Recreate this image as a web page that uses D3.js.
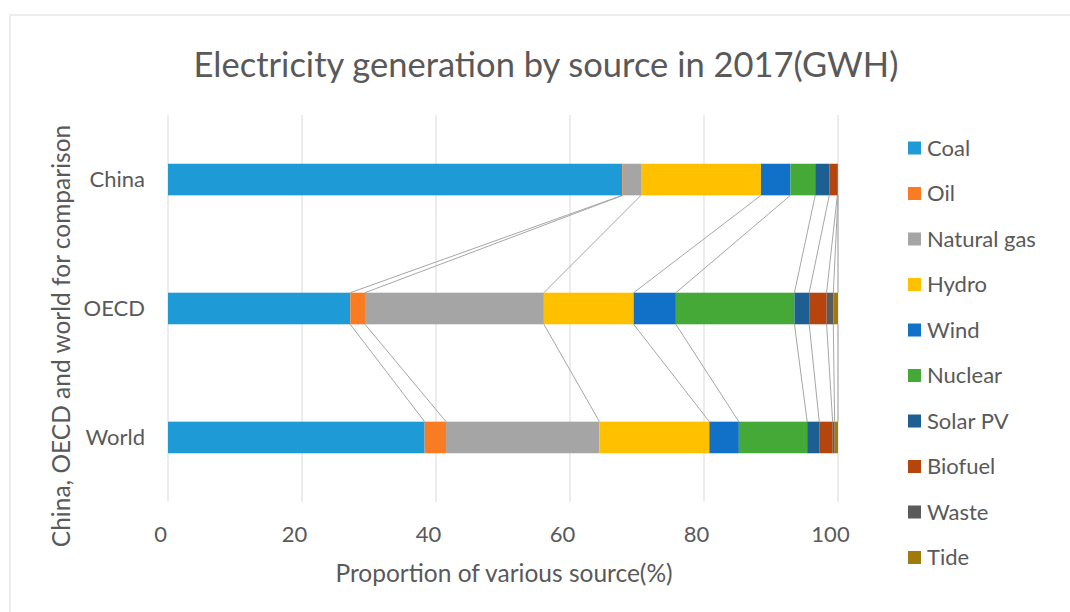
<!DOCTYPE html>
<html>
<head>
<meta charset="utf-8">
<script src="https://cdn.jsdelivr.net/npm/d3@7"></script>
<style>
  body { margin: 0; background: #fff; }
  text { font-family: Lato, "Open Sans", sans-serif; fill: #595959; }
</style>
</head>
<body>
<div id="chart"></div>
<script>
// Dados (% de cada fonte)
const regioes = ["China", "OECD", "World"];
const fontes = ["Coal", "Oil", "Natural gas", "Hydro", "Wind", "Nuclear", "Solar PV", "Biofuel", "Waste", "Tide"];
const china = [67.8, 0.1, 2.7, 17.9, 4.4, 3.7, 2.1, 1.2, 0.1, 0.0];
const oecd  = [27.2, 2.2, 26.7, 13.4, 6.3, 17.7, 2.2, 2.6, 1.0, 0.7];
const world = [38.3, 3.2, 22.9, 16.4, 4.4, 10.2, 1.8, 2.0, 0.3, 0.5];
const ticksX = [0, 20, 40, 60, 80, 100];
const cores = ["#1e9bd7", "#f97b22", "#a5a5a5", "#ffc000", "#1170c8", "#44a936", "#1d5f93", "#b5450c", "#5b5b5b", "#a07a0a"];

const valores = [china, oecd, world];
const tabela = regioes.map((r, i) => {
  const linha = { regiao: r };
  fontes.forEach((f, j) => linha[f] = valores[i][j]);
  return linha;
});

const W = 1070, H = 612;
const plot = { left: 168, right: 838, top: 115, bottom: 502 };

const svg = d3.select("#chart")
    .append("svg")
    .attr("width", W)
    .attr("height", H);

// Moldura
svg.append("rect")
    .attr("x", 10).attr("y", 15)
    .attr("width", 1100).attr("height", 700)
    .attr("fill", "none")
    .attr("stroke", "#d9d9d9");

// Escalas
const x = d3.scaleLinear()
    .domain([0, 100])
    .range([plot.left, plot.right]);

const y = d3.scaleBand()
    .domain(regioes)
    .range([plot.top, plot.bottom])
    .paddingInner(0.755)
    .paddingOuter(0.378);

const color = d3.scaleOrdinal()
    .domain(fontes)
    .range(cores);

// Grade vertical
svg.append("g")
  .selectAll("line")
  .data(ticksX)
  .enter()
  .append("line")
    .attr("x1", d => x(d)).attr("x2", d => x(d))
    .attr("y1", plot.top).attr("y2", plot.bottom)
    .attr("stroke", "#d9d9d9");

// Empilhamento
const series = d3.stack().keys(fontes)(tabela);

// Linhas de série (ligando fim de cada fonte entre barras)
const ligacoes = [];
series.forEach(s => {
  for (let i = 0; i < regioes.length - 1; i++) {
    ligacoes.push({ x1: s[i][1], r1: regioes[i], x2: s[i + 1][1], r2: regioes[i + 1] });
  }
});
svg.append("g")
  .selectAll("line")
  .data(ligacoes)
  .enter()
  .append("line")
    .attr("x1", d => x(d.x1))
    .attr("y1", d => y(d.r1) + y.bandwidth())
    .attr("x2", d => x(d.x2))
    .attr("y2", d => y(d.r2))
    .attr("stroke", "#a6a6a6")
    .attr("stroke-width", 1);

// Barras
svg.append("g")
  .selectAll("g")
  .data(series)
  .enter()
  .append("g")
    .attr("fill", d => color(d.key))
  .selectAll("rect")
  .data(d => d)
  .enter()
  .append("rect")
    .attr("x", d => x(d[0]))
    .attr("y", d => y(d.data.regiao))
    .attr("width", d => Math.max(0, x(d[1]) - x(d[0])))
    .attr("height", y.bandwidth());

// Eixo X
const eixoX = svg.append("g")
    .attr("transform", `translate(-8,${plot.bottom})`)
    .call(d3.axisBottom(x).tickValues(ticksX).tickSize(0).tickPadding(24));
eixoX.select(".domain").remove();
eixoX.selectAll("text")
    .attr("fill", "#595959")
    .style("font-size", "22px")
    .style("font-family", "Lato, sans-serif");

// Eixo Y
const eixoY = svg.append("g")
    .attr("transform", `translate(${plot.left},0)`)
    .call(d3.axisLeft(y).tickSize(0).tickPadding(23));
eixoY.select(".domain").remove();
eixoY.selectAll("text")
    .attr("fill", "#595959")
    .style("font-size", "22px")
    .style("font-family", "Lato, sans-serif");

// Título
svg.append("text")
    .attr("x", 546)
    .attr("y", 77)
    .attr("text-anchor", "middle")
    .style("font-size", "34.5px")
    .text("Electricity generation by source in 2017(GWH)");

// Títulos dos eixos
svg.append("text")
    .attr("x", 504)
    .attr("y", 582)
    .attr("text-anchor", "middle")
    .style("font-size", "24.5px")
    .text("Proportion of various source(%)");

svg.append("text")
    .attr("transform", "translate(70,336) rotate(-90)")
    .attr("text-anchor", "middle")
    .style("font-size", "24.5px")
    .text("China, OECD and world for comparison");

// Legenda
const legenda = svg.append("g")
  .selectAll("g")
  .data(fontes)
  .enter()
  .append("g")
    .attr("transform", (d, i) => `translate(908,${148 + i * 45.5})`);

legenda.append("rect")
    .attr("y", -6.5)
    .attr("width", 13)
    .attr("height", 13)
    .attr("fill", d => color(d));

legenda.append("text")
    .attr("x", 19)
    .attr("y", 7.5)
    .style("font-size", "22px")
    .text(d => d);
</script>
</body>
</html>
